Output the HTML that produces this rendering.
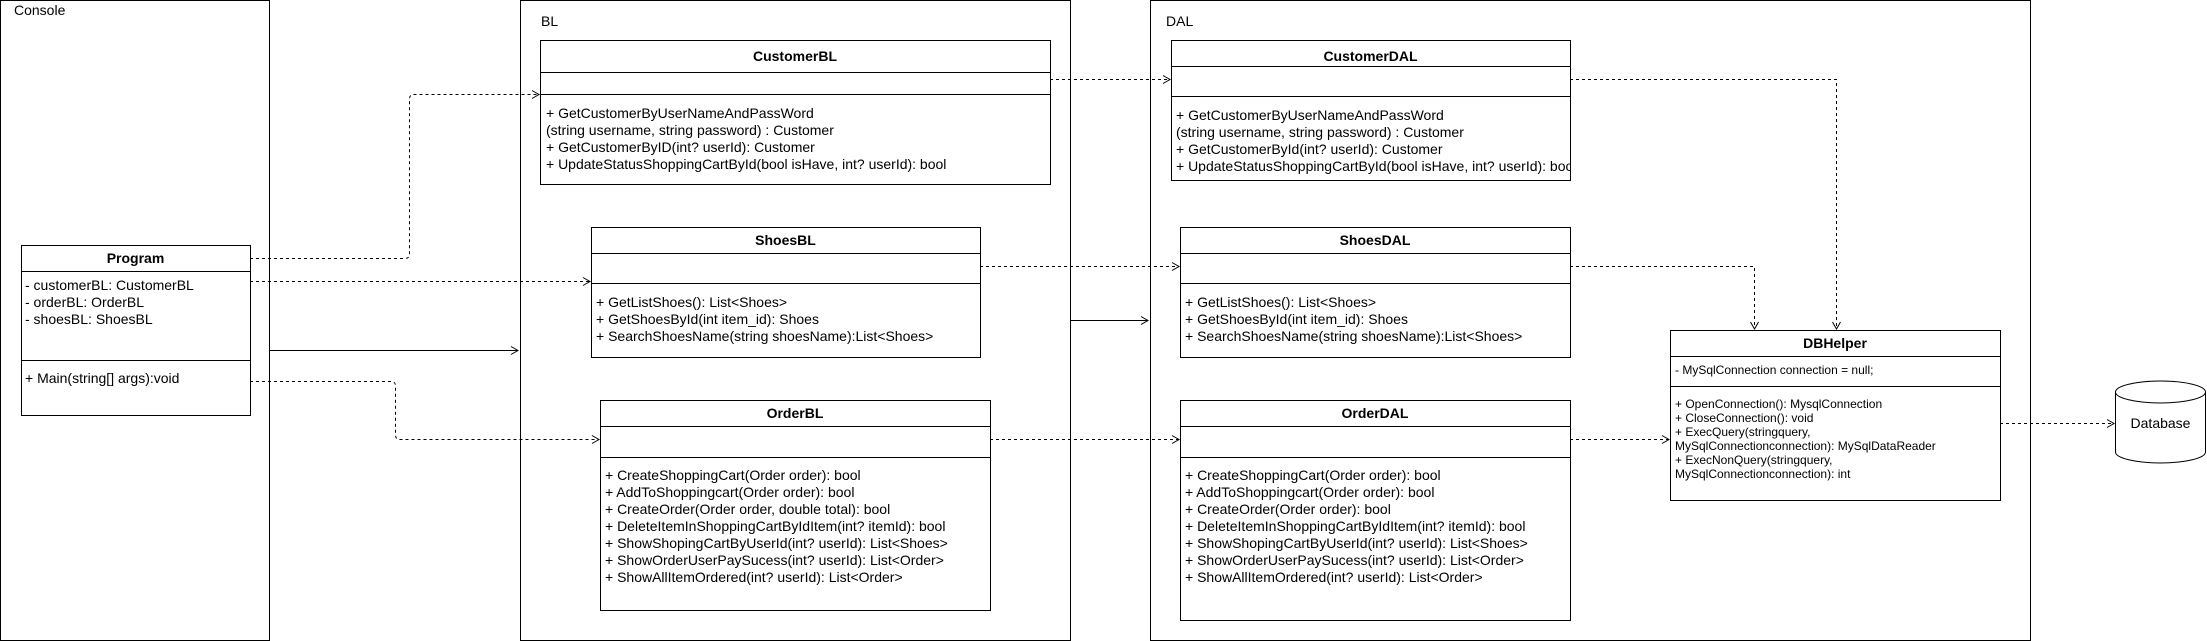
<!DOCTYPE html>
<html><head><meta charset="utf-8"><style>
html,body{margin:0;padding:0;background:#fff;}
svg{display:block;}
text{font-family:"Liberation Sans",Arial,sans-serif;font-size:14px;fill:#000;}
.b{font-weight:bold;}
.s{font-size:12px;}
</style></head><body>
<svg width="2207" height="641" viewBox="0 0 2207 641" xmlns="http://www.w3.org/2000/svg">
<defs>
<marker id="a" markerWidth="10" markerHeight="10" refX="8" refY="5" orient="auto" markerUnits="userSpaceOnUse">
<path d="M1,1 L8,5 L1,9" fill="none" stroke="#000" stroke-width="1"/>
</marker>
</defs>
<g fill="none" stroke="#000" stroke-width="1">
<rect x="0.5" y="0.5" width="269" height="640"/>
<rect x="520.5" y="0.5" width="550" height="640"/>
<rect x="1150.5" y="0.5" width="880" height="640"/>
<rect x="21.5" y="245.5" width="229" height="170"/>
<line x1="21" y1="271.5" x2="250" y2="271.5"/>
<line x1="21" y1="360.5" x2="250" y2="360.5"/>
<rect x="540.5" y="40.5" width="510" height="144"/>
<line x1="540" y1="72.5" x2="1050" y2="72.5"/>
<line x1="540" y1="94.5" x2="1050" y2="94.5"/>
<rect x="591.5" y="227.5" width="389" height="130"/>
<line x1="591" y1="253.5" x2="980" y2="253.5"/>
<line x1="591" y1="283.5" x2="980" y2="283.5"/>
<rect x="600.5" y="400.5" width="390" height="210"/>
<line x1="600" y1="426.5" x2="990" y2="426.5"/>
<line x1="600" y1="457.5" x2="990" y2="457.5"/>
<rect x="1171.5" y="40.5" width="399" height="140"/>
<line x1="1171" y1="66.5" x2="1570" y2="66.5"/>
<line x1="1171" y1="96.5" x2="1570" y2="96.5"/>
<rect x="1180.5" y="227.5" width="390" height="130"/>
<line x1="1180" y1="253.5" x2="1570" y2="253.5"/>
<line x1="1180" y1="283.5" x2="1570" y2="283.5"/>
<rect x="1180.5" y="400.5" width="390" height="220"/>
<line x1="1180" y1="426.5" x2="1570" y2="426.5"/>
<line x1="1180" y1="457.5" x2="1570" y2="457.5"/>
<rect x="1670.5" y="330.5" width="330" height="170"/>
<line x1="1670" y1="356.5" x2="2000" y2="356.5"/>
<line x1="1670" y1="386.5" x2="2000" y2="386.5"/>
<path d="M2115.5,392 L2115.5,452 A45,11 0 0 0 2205.5,452 L2205.5,392"/>
<ellipse cx="2160.5" cy="392" rx="45" ry="11"/>
<line x1="270" y1="350.5" x2="518" y2="350.5" marker-end="url(#a)"/>
<line x1="1070" y1="320.5" x2="1148" y2="320.5" marker-end="url(#a)"/>
</g>
<g fill="none" stroke="#000" stroke-width="1" stroke-dasharray="3,3">
<path d="M250,258.5 L405,258.5 Q409.5,258.5 409.5,254 L409.5,99 Q409.5,94.5 414,94.5 L539,94.5" marker-end="url(#a)"/>
<path d="M250,281.5 L590,281.5" marker-end="url(#a)"/>
<path d="M250,381.5 L391,381.5 Q395.5,381.5 395.5,386 L395.5,435 Q395.5,439.5 400,439.5 L599,439.5" marker-end="url(#a)"/>
<path d="M1050,79.5 L1170,79.5" marker-end="url(#a)"/>
<path d="M980,266.5 L1179,266.5" marker-end="url(#a)"/>
<path d="M990,439.5 L1179,439.5" marker-end="url(#a)"/>
<path d="M1570,79.5 L1836.5,79.5 L1836.5,329" marker-end="url(#a)"/>
<path d="M1570,266.5 L1754.5,266.5 L1754.5,329" marker-end="url(#a)"/>
<path d="M1570,439.5 L1669,439.5" marker-end="url(#a)"/>
<path d="M2000,423.5 L2114,423.5" marker-end="url(#a)"/>
</g>
<text x="14" y="15">Console</text>
<text x="541" y="26">BL</text>
<text x="1166" y="26">DAL</text>

<text class="b" x="135.5" y="263" text-anchor="middle">Program</text>
<text x="25" y="290">- customerBL: CustomerBL</text>
<text x="25" y="307">- orderBL: OrderBL</text>
<text x="25" y="324">- shoesBL: ShoesBL</text>
<text x="25" y="383">+ Main(string[] args):void</text>

<text class="b" x="795" y="61" text-anchor="middle">CustomerBL</text>
<text x="546" y="118">+ GetCustomerByUserNameAndPassWord</text>
<text x="546" y="135">(string username, string password) : Customer</text>
<text x="546" y="152">+ GetCustomerByID(int? userId): Customer</text>
<text x="546" y="169">+ UpdateStatusShoppingCartById(bool isHave, int? userId): bool</text>

<text class="b" x="785.5" y="245" text-anchor="middle">ShoesBL</text>
<text x="596" y="307">+ GetListShoes(): List&lt;Shoes&gt;</text>
<text x="596" y="324">+ GetShoesById(int item_id): Shoes</text>
<text x="596" y="341">+ SearchShoesName(string shoesName):List&lt;Shoes&gt;</text>

<text class="b" x="795" y="418" text-anchor="middle">OrderBL</text>
<text x="605" y="480">+ CreateShoppingCart(Order order): bool</text>
<text x="605" y="497">+ AddToShoppingcart(Order order): bool</text>
<text x="605" y="514">+ CreateOrder(Order order, double total): bool</text>
<text x="605" y="531">+ DeleteItemInShoppingCartByIdItem(int? itemId): bool</text>
<text x="605" y="548">+ ShowShopingCartByUserId(int? userId): List&lt;Shoes&gt;</text>
<text x="605" y="565">+ ShowOrderUserPaySucess(int? userId): List&lt;Order&gt;</text>
<text x="605" y="582">+ ShowAllItemOrdered(int? userId): List&lt;Order&gt;</text>

<text class="b" x="1370.5" y="61" text-anchor="middle">CustomerDAL</text>
<svg x="1171" y="96" width="399" height="84" overflow="hidden">
<text x="5" y="24">+ GetCustomerByUserNameAndPassWord</text>
<text x="5" y="41">(string username, string password) : Customer</text>
<text x="5" y="58">+ GetCustomerById(int? userId): Customer</text>
<text x="5" y="75">+ UpdateStatusShoppingCartById(bool isHave, int? userId): bool</text>
</svg>

<text class="b" x="1375" y="245" text-anchor="middle">ShoesDAL</text>
<text x="1185" y="307">+ GetListShoes(): List&lt;Shoes&gt;</text>
<text x="1185" y="324">+ GetShoesById(int item_id): Shoes</text>
<text x="1185" y="341">+ SearchShoesName(string shoesName):List&lt;Shoes&gt;</text>

<text class="b" x="1375" y="418" text-anchor="middle">OrderDAL</text>
<text x="1185" y="480">+ CreateShoppingCart(Order order): bool</text>
<text x="1185" y="497">+ AddToShoppingcart(Order order): bool</text>
<text x="1185" y="514">+ CreateOrder(Order order): bool</text>
<text x="1185" y="531">+ DeleteItemInShoppingCartByIdItem(int? itemId): bool</text>
<text x="1185" y="548">+ ShowShopingCartByUserId(int? userId): List&lt;Shoes&gt;</text>
<text x="1185" y="565">+ ShowOrderUserPaySucess(int? userId): List&lt;Order&gt;</text>
<text x="1185" y="582">+ ShowAllItemOrdered(int? userId): List&lt;Order&gt;</text>

<text class="b" x="1835" y="348" text-anchor="middle">DBHelper</text>
<text class="s" x="1675" y="374">- MySqlConnection connection = null;</text>
<text class="s" x="1675" y="408">+ OpenConnection(): MysqlConnection</text>
<text class="s" x="1675" y="422">+ CloseConnection(): void</text>
<text class="s" x="1675" y="436">+ ExecQuery(stringquery,</text>
<text class="s" x="1675" y="450">MySqlConnectionconnection): MySqlDataReader</text>
<text class="s" x="1675" y="464">+ ExecNonQuery(stringquery,</text>
<text class="s" x="1675" y="478">MySqlConnectionconnection): int</text>

<text x="2160.5" y="428" text-anchor="middle">Database</text>
</svg>
</body></html>
